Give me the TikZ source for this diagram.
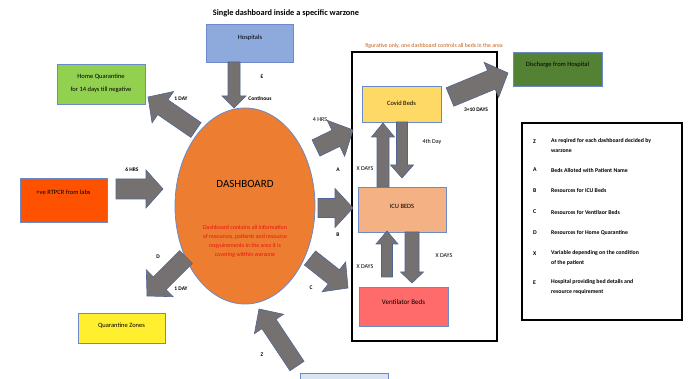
\documentclass[tikz,border=0pt]{standalone}
\usepackage{fontspec}
\setmainfont{Carlito}
\usetikzlibrary{calc,shapes.geometric}
\definecolor{arrgray}{HTML}{767171}
\definecolor{arredge}{HTML}{4F6490}
\definecolor{boxedge}{HTML}{6A8BC8}
\definecolor{hospblue}{HTML}{8EA9DB}
\definecolor{homegreen}{HTML}{92D050}
\definecolor{rtpcr}{HTML}{FF5200}
\definecolor{qyellow}{HTML}{FFEF2E}
\definecolor{covid}{HTML}{FFD966}
\definecolor{icu}{HTML}{F4B183}
\definecolor{vent}{HTML}{FF6B6B}
\definecolor{disch}{HTML}{548235}
\definecolor{lightbox}{HTML}{DAE3F3}
\definecolor{dashorange}{HTML}{ED7D31}
\definecolor{noteorange}{HTML}{C55A11}
\definecolor{redtext}{HTML}{F01010}
\tikzset{
  barrow/.style={fill=arrgray, draw=arredge, line width=0.6pt, line join=miter},
  colbox/.style={draw=boxedge, line width=0.8pt, rectangle, inner sep=0pt},
  boxtxt/.style={font=\fontsize{6.5}{8}\selectfont, inner sep=0pt, align=center},
  tinyb/.style={font=\fontsize{5.5}{6.5}\selectfont\bfseries, inner sep=0pt},
  tinyr/.style={font=\fontsize{6}{7}\selectfont, inner sep=0pt},
  legl/.style={font=\fontsize{5.8}{7}\selectfont\bfseries, inner sep=0pt, anchor=west},
  legt/.style={font=\fontsize{5.8}{10}\selectfont\bfseries, inner sep=0pt, anchor=north west, align=left},
}
\newcommand\blockarrow[5]{%
  \path ($(#2)!#5!(#1)$) coordinate (hb);
  \filldraw[barrow] ($(#1)!#3!90:(#2)$) -- ($(hb)!#3!90:(#2)$) -- ($(hb)!#4!90:(#2)$) -- (#2)
    -- ($(hb)!#4!-90:(#2)$) -- ($(hb)!#3!-90:(#2)$) -- ($(#1)!#3!-90:(#2)$) -- cycle;}
\begin{document}
\begin{tikzpicture}[x=1pt,y=-1pt]
\useasboundingbox (0,0) rectangle (688,379);
% title
\node[font=\fontsize{8.3}{10}\selectfont\bfseries, inner sep=0pt] (title) at (286,13) {Single dashboard inside a specific warzone};
% frame
\node[draw=black, line width=1.3pt, minimum width=145pt, minimum height=289pt, inner sep=0pt] (frame) at (424.5,196.5) {};
\node[font=\fontsize{5.8}{7}\selectfont, text=noteorange, inner sep=0pt] (note) at (434,46) {figurative only, one dashboard controls all beds in the area};
% boxes
\node[colbox, fill=hospblue, minimum width=87pt, minimum height=38pt] (hosp) at (250,43) {};
\node[boxtxt] (hospt) at (250,38) {Hospitals};
\node[colbox, fill=homegreen, minimum width=88pt, minimum height=40pt] (homeq) at (101,84) {};
\node[boxtxt, font=\fontsize{6.5}{13}\selectfont] (homeqt) at (101,83) {Home Quarantine\\for 14 days till negative};
\node[colbox, fill=rtpcr, minimum width=87pt, minimum height=44pt] (rt) at (63.5,200) {};
\node[boxtxt] (rtt) at (63.5,192) {+ve RTPCR from labs};
\node[colbox, fill=qyellow, minimum width=87pt, minimum height=30pt] (qz) at (121.5,328) {};
\node[boxtxt] (qzt) at (121.5,326) {Quarantine Zones};
\node[colbox, fill=lightbox, minimum width=88pt, minimum height=20pt] (bot) at (344,383) {};
\node[colbox, fill=covid, minimum width=79pt, minimum height=36pt] (covid) at (401.5,104) {};
\node[boxtxt] (covidt) at (401.5,103) {Covid Beds};
\node[colbox, fill=icu, minimum width=88pt, minimum height=45pt] (icu) at (402,209.5) {};
\node[boxtxt] (icut) at (402,206) {ICU BEDS};
\node[colbox, fill=vent, minimum width=89pt, minimum height=39pt] (vent) at (403.5,306.5) {};
\node[boxtxt, font=\fontsize{7}{8}\selectfont] (ventt) at (403.5,302) {Ventilator Beds};
\node[colbox, fill=disch, minimum width=89pt, minimum height=34pt] (disch) at (557.5,69) {};
\node[boxtxt] (discht) at (557.5,65) {Discharge from Hospital};
% dashboard
\node[ellipse, fill=dashorange, draw=boxedge, line width=0.8pt, minimum width=140pt, minimum height=196pt, inner sep=0pt] (dash) at (245,206) {};
\node[font=\fontsize{11}{13}\selectfont, inner sep=0pt] (dasht) at (245,184) {DASHBOARD};
\node[font=\fontsize{5.9}{9}\selectfont, text=redtext, align=center, inner sep=0pt] (dashr) at (245,241.5) {Dashboard contains all information\\of resources, patients and resource\\reqyuirements in the area it is\\covering witthin warzone};
% arrow end points
\coordinate (e1s) at (234,62);   \coordinate (e1e) at (234,108);
\coordinate (hqs) at (196,130);  \coordinate (hqe) at (148,97);
\coordinate (rts) at (116,189);  \coordinate (rte) at (163,189);
\coordinate (ds)  at (186,257);  \coordinate (de)  at (147,296);
\coordinate (zs)  at (297,366);  \coordinate (ze)  at (259,309);
\coordinate (as)  at (316,148);  \coordinate (ae)  at (353,130);
\coordinate (bs)  at (318,208);  \coordinate (be)  at (353,208);
\coordinate (cs)  at (310,258);  \coordinate (ce)  at (348,288);
\coordinate (xs)  at (450,97);   \coordinate (xe)  at (508,73);
\coordinate (c1s) at (383,187);  \coordinate (c1e) at (383,123);
\coordinate (c2s) at (402,122);  \coordinate (c2e) at (402,178);
\coordinate (i1s) at (387,277);  \coordinate (i1e) at (387,231);
\coordinate (i2s) at (412,232);  \coordinate (i2e) at (412,283);
\blockarrow{e1s}{e1e}{6pt}{12pt}{12pt}
\blockarrow{hqs}{hqe}{9pt}{19pt}{18pt}
\blockarrow{rts}{rte}{10pt}{19pt}{17pt}
\blockarrow{ds}{de}{9pt}{19pt}{18pt}
\blockarrow{zs}{ze}{8.5pt}{17.5pt}{18pt}
\blockarrow{as}{ae}{9pt}{20pt}{19pt}
\blockarrow{bs}{be}{9.5pt}{19.5pt}{18pt}
\blockarrow{cs}{ce}{9pt}{19pt}{18pt}
\blockarrow{xs}{xe}{10pt}{19pt}{18pt}
\blockarrow{c1s}{c1e}{6pt}{11.5pt}{14pt}
\blockarrow{c2s}{c2e}{5.5pt}{11.5pt}{13pt}
\blockarrow{i1s}{i1e}{5.5pt}{11pt}{13pt}
\blockarrow{i2s}{i2e}{7pt}{11.5pt}{11pt}
% arrow labels
\node[tinyb] (lE) at (262,77) {E};
\node[tinyb] (lcont) at (260,99) {Continous};
\node[tinyb] (l1day) at (181,99) {1 DAY};
\node[tinyb] (l6hrs) at (132,170) {6 HRS};
\node[tinyb] (lD) at (158,257) {D};
\node[tinyb] (l1dayb) at (181,289) {1 DAY};
\node[tinyb] (lZ) at (262,355) {Z};
\node[tinyr] (l4hrs) at (320,120) {4 HRS};
\node[tinyb] (lA) at (338,170) {A};
\node[tinyb] (lB) at (338,235) {B};
\node[tinyb] (lC) at (311,288) {C};
\node[tinyb] (l310) at (476,110) {3+10 DAYS};
\node[tinyr] (l4th) at (432,142) {4th Day};
\node[tinyr] (lx1) at (365,169) {X DAYS};
\node[tinyr] (lx2) at (365,267) {X DAYS};
\node[tinyr] (lx3) at (444,256) {X DAYS};
% legend
\node[draw=black, line width=1.2pt, minimum width=160pt, minimum height=197pt, inner sep=0pt] (leg) at (602,221.5) {};
\node[legl] (kZ) at (533,142) {Z};
\node[legt] (tZ) at (551,138.5) {As reqired for each dashboard decided by\\warzone};
\node[legl] (kA) at (533,170) {A};
\node[legl] (tA) at (551,170) {Beds Alloted with Patient Name};
\node[legl] (kB) at (533,190.5) {B};
\node[legl] (tB) at (551,190.5) {Resources for ICU Beds};
\node[legl] (kC) at (533,212) {C};
\node[legl] (tC) at (551,212) {Resources for Ventilaor Beds};
\node[legl] (kD) at (533,233) {D};
\node[legl] (tD) at (551,233) {Resources for Home Quarantine};
\node[legl] (kX) at (533,254) {X};
\node[legt] (tX) at (551,250.5) {Variable depending on the condition\\of the patient};
\node[legl] (kE) at (533,283) {E};
\node[legt] (tE) at (551,279.5) {Hospital providing bed details and\\resource requirement};
\end{tikzpicture}
\end{document}
